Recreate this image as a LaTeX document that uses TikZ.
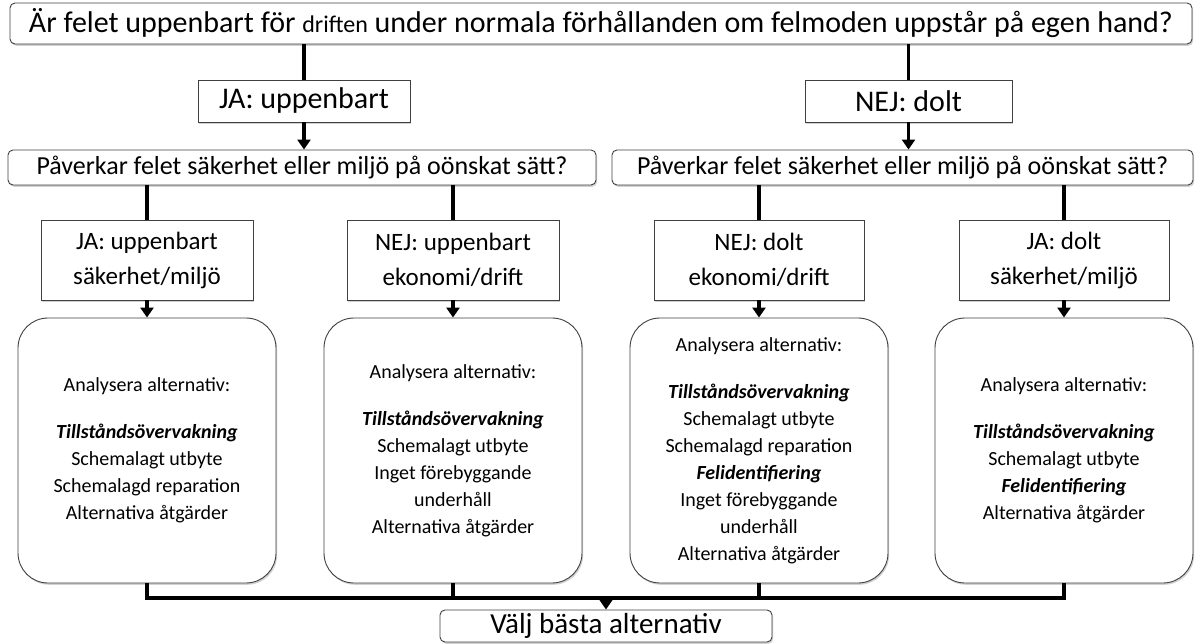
\documentclass[tikz,border=0pt]{standalone}
\usepackage{fontspec}
\setmainfont{Carlito}
\usetikzlibrary{positioning,shadows,arrows.meta}

\tikzset{
  skugga/.style={drop shadow={shadow xshift=1.2pt, shadow yshift=-1.8pt, opacity=0.18, fill=black}},
  fraga/.style={draw=black!75, line width=0.9pt, rounded corners=5pt, fill=white, skugga, inner sep=0pt, align=center},
  svar/.style={draw=black!75, line width=0.9pt, fill=white, skugga, inner sep=0pt, align=center},
  analys/.style={draw=black!75, line width=0.9pt, rounded corners=30pt, fill=white, skugga, inner sep=0pt,
    minimum width=258pt, minimum height=265pt, align=center, font=\fontsize{20}{27}\selectfont},
  ledning/.style={line width=3.6pt},
  pil/.style={ledning, -{Triangle[length=10pt,width=13pt]}},
}
\newcommand{\fetkursiv}[1]{\textbf{\textit{#1}}}

\begin{document}
\begin{tikzpicture}[x=1pt, y=-1pt]
\useasboundingbox (0,0) rectangle (1200,644);

% fråga: uppenbart eller dolt
\node[fraga, minimum width=1182pt, minimum height=41pt, font=\fontsize{30}{34}\selectfont] (uppenbar) at (601,23.5)
  {Är felet uppenbart för {\fontsize{24}{28}\selectfont driften} under normala förhållanden om felmoden uppstår på egen hand?};

\node[svar, minimum width=212pt, minimum height=42pt, font=\fontsize{30}{34}\selectfont] (ja) at (304,101) {JA: uppenbart};
\node[svar, minimum width=207pt, minimum height=42pt, font=\fontsize{30}{34}\selectfont] (nej) at (908.5,101) {NEJ: dolt};

% fråga: säkerhet eller miljö
\node[fraga, minimum width=588pt, minimum height=35pt, font=\fontsize{26}{30}\selectfont] (sakvanster) at (302,167.5)
  {Påverkar felet säkerhet eller miljö på oönskat sätt?};
\node[fraga, minimum width=581pt, minimum height=35pt, font=\fontsize{26}{30}\selectfont] (sakhoger) at (902.5,167.5)
  {Påverkar felet säkerhet eller miljö på oönskat sätt?};

% konsekvenser
\node[svar, minimum width=212pt, minimum height=80pt, font=\fontsize{25}{35}\selectfont] (ujamiljo) at (147,260)
  {JA: uppenbart\\säkerhet/miljö};
\node[svar, minimum width=212pt, minimum height=80pt, font=\fontsize{25}{35}\selectfont] (unejdrift) at (453,260)
  {NEJ: uppenbart\\ekonomi/drift};
\node[svar, minimum width=210pt, minimum height=80pt, font=\fontsize{25}{35}\selectfont] (dnejdrift) at (759,260)
  {NEJ: dolt\\ekonomi/drift};
\node[svar, minimum width=210pt, minimum height=80pt, font=\fontsize{25}{35}\selectfont] (djamiljo) at (1064,260)
  {JA: dolt\\säkerhet/miljö};

% alternativ
\node[analys] (alt1) at (147,450.5) {Analysera alternativ:\\[20pt]
  \fetkursiv{Tillståndsövervakning}\\Schemalagt utbyte\\Schemalagd reparation\\Alternativa åtgärder};
\node[analys] (alt2) at (453,450.5) {Analysera alternativ:\\[20pt]
  \fetkursiv{Tillståndsövervakning}\\Schemalagt utbyte\\Inget förebyggande\\underhåll\\Alternativa åtgärder};
\node[analys] (alt3) at (759,450.5) {Analysera alternativ:\\[20pt]
  \fetkursiv{Tillståndsövervakning}\\Schemalagt utbyte\\Schemalagd reparation\\\fetkursiv{Felidentifiering}\\Inget förebyggande\\underhåll\\Alternativa åtgärder};
\node[analys] (alt4) at (1064,450.5) {Analysera alternativ:\\[20pt]
  \fetkursiv{Tillståndsövervakning}\\Schemalagt utbyte\\\fetkursiv{Felidentifiering}\\Alternativa åtgärder};

\node[fraga, minimum width=332pt, minimum height=32pt, font=\fontsize{29}{33}\selectfont] (valj) at (606,626) {Välj bästa alternativ};
\coordinate (samla) at (606,598);

% ledningar
\draw[ledning] (uppenbar.south -| ja.north) -- (ja.north);
\draw[ledning] (uppenbar.south -| nej.north) -- (nej.north);
\draw[pil] (ja.south) -- (ja.south |- sakvanster.north);
\draw[pil] (nej.south) -- (nej.south |- sakhoger.north);
\foreach \k/\f in {ujamiljo/sakvanster, unejdrift/sakvanster, dnejdrift/sakhoger, djamiljo/sakhoger}
  \draw[ledning] (\f.south -| \k.north) -- (\k.north);
\foreach \k/\a in {ujamiljo/alt1, unejdrift/alt2, dnejdrift/alt3, djamiljo/alt4}
  \draw[pil] (\k.south) -- (\a.north);
\draw[ledning, line join=miter] (alt1.south) |- (samla) -| (alt4.south);
\draw[ledning] (alt2.south) -- (alt2.south |- samla);
\draw[ledning] (alt3.south) -- (alt3.south |- samla);
\draw[pil] (samla) -- (valj.north);
\end{tikzpicture}
\end{document}
